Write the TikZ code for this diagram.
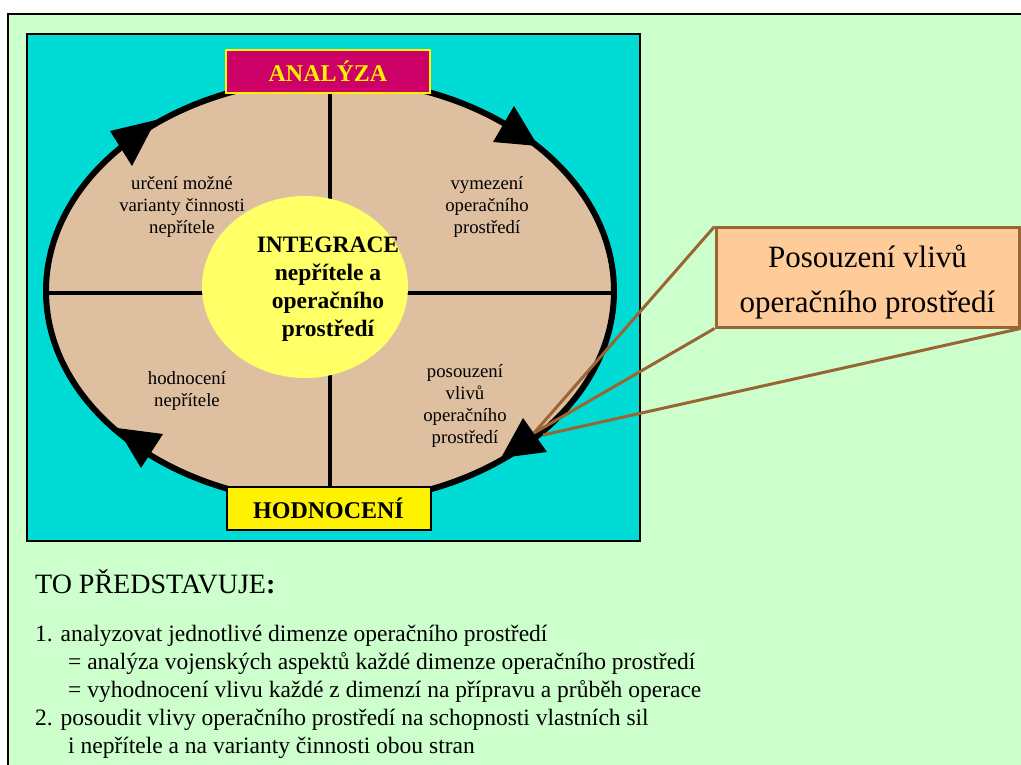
\documentclass[tikz,border=0pt]{standalone}
\usepackage{fontspec}
\setmainfont{Liberation Serif}
\usetikzlibrary{positioning,shapes.geometric}

\definecolor{pozadi}{RGB}{204,255,204}
\definecolor{tyrkys}{RGB}{0,220,213}
\definecolor{bezova}{RGB}{222,191,160}
\definecolor{zluta}{RGB}{255,255,102}
\definecolor{purpur}{RGB}{204,0,102}
\definecolor{losos}{RGB}{255,204,153}
\definecolor{hneda}{RGB}{153,102,51}

\begin{document}
\begin{tikzpicture}[x=1pt,y=-1pt,
  titulek/.style={draw,line width=2pt,minimum width=204,minimum height=43,inner sep=0pt,font=\fontsize{24}{28}\selectfont\bfseries},
  ctvrt/.style={align=center,font=\fontsize{18.75}{22}\selectfont},
  sipka/.style={fill=black},
  odkaz/.style={draw=hneda,line width=3pt}]
\useasboundingbox (0,0) rectangle (1021,765);
\clip (0,0) rectangle (1021,765);
\fill[white] (0,0) rectangle (1021,765);
\draw[fill=pozadi,line width=2.5pt] (8,14) rectangle (1040,790);
\draw[fill=tyrkys,line width=2.5pt] (27,34) rectangle (640,541);
% cyklus
\node[ellipse,draw,line width=6pt,fill=bezova,minimum width=568,minimum height=424,inner sep=0pt] (cyklus) at (330,291) {};
\draw[line width=3.5pt] (cyklus.north) -- (cyklus.south);
\draw[line width=3.5pt] ([yshift=-2pt]cyklus.west) -- ([yshift=-2pt]cyklus.east);
\fill[sipka] (156,120) -- (110,131) -- (132,166) -- cycle;
\fill[sipka] (538,146) -- (493,142) -- (514,106) -- cycle;
\fill[sipka] (501,458) -- (523,418) -- (547,452) -- cycle;
\fill[sipka] (117,428) -- (163,434) -- (141,468) -- cycle;
\node[ellipse,fill=zluta,minimum width=206,minimum height=182,inner sep=0pt] (integ) at (305,287) {};
\node[align=center,font=\fontsize{23.5}{28}\selectfont\bfseries] (integtext) at (328,289) {INTEGRACE\\nepřítele a\\operačního\\prostředí};
\node[ctvrt] (urceni) at (182,207) {určení možné\\varianty činnosti\\nepřítele};
\node[ctvrt] (vymezeni) at (487,207) {vymezení\\operačního\\prostředí};
\node[ctvrt] (hodn) at (187,391) {hodnocení\\nepřítele};
\node[ctvrt] (posouz) at (465,406) {posouzení\\vlivů\\operačního\\prostředí};
\node[titulek,fill=purpur,draw=yellow,text=yellow] (analyza) at (328,71.5) {ANALÝZA};
\node[titulek,fill=yellow,draw=black] (hodnoceni) at (328.5,508) {HODNOCENÍ};
% popisek
\coordinate (hrot) at (534,433);
\coordinate (hrot2) at (543,435);
\node[draw=hneda,line width=3pt,fill=losos,minimum width=303,minimum height=99,inner sep=0pt] (vliv) at (867.5,277.5) {};
\node[align=center,font=\fontsize{31}{45}\selectfont] (vlivtext) at ([yshift=-5pt]vliv.center) {Posouzení vlivů\\operačního prostředí};
\draw[odkaz] (hrot) -- (vliv.north west);
\draw[odkaz] (hrot) -- (vliv.south west);
\draw[odkaz] (hrot2) -- (vliv.south east);
% text
\node[anchor=base west,inner sep=0pt,font=\fontsize{28}{32}\selectfont] (nadpis) at (35,593) {TO PŘEDSTAVUJE\textbf{:}};
\node[anchor=north west,inner sep=0pt,align=left,font=\fontsize{23.5}{28}\selectfont] (body) at (35,625) {1. analyzovat jednotlivé dimenze operačního prostředí\\
\hspace*{33pt}= analýza vojenských aspektů každé dimenze operačního prostředí\\
\hspace*{33pt}= vyhodnocení vlivu každé z dimenzí na přípravu a průběh operace\\
2. posoudit vlivy operačního prostředí na schopnosti vlastních sil\\
\hspace*{33pt}i nepřítele a na varianty činnosti obou stran};
\end{tikzpicture}
\end{document}
